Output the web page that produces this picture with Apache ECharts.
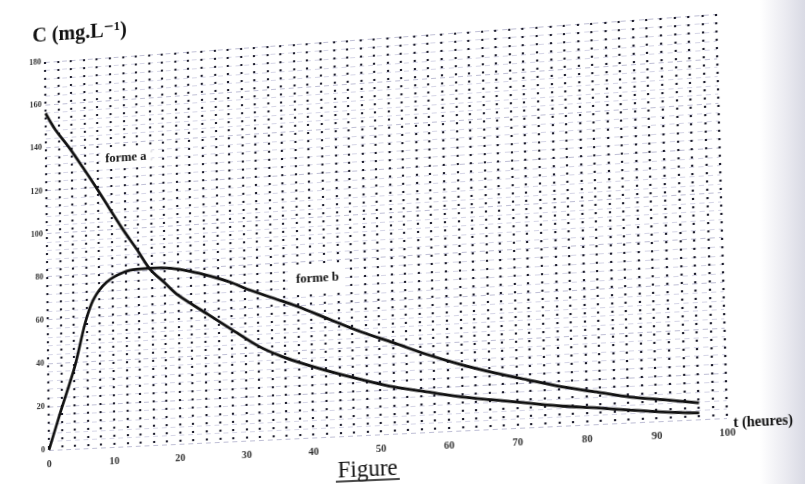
<!DOCTYPE html>
<html>
<head>
<meta charset="utf-8">
<script src="https://cdn.jsdelivr.net/npm/echarts@6/dist/echarts.min.js"></script>
<style>
  html, body { margin:0; padding:0; width:805px; height:484px; overflow:hidden;
    background: linear-gradient(to right, #ffffff 0px, #ffffff 760px, #ebebf1 785px, #d9dae4 805px); }
  #wrap { position:absolute; left:0; top:0; width:805px; height:520px; transform-origin:0 0; }
  #chart { width:805px; height:520px; }
</style>
</head>
<body>
<div id="wrap"><div id="chart"></div></div>
<script>
// ---- data ----
const tA = [0,1.5,3.5,5.6,7.6,9.5,11.7,13.8,15.8,18,20,24.5,28,32.1,35.5,38.1,42.7,47.4,52.1,57,62,66.8,71.6,76.6,81.5,86.3,91.3,96.1];
const cA = [156,148,139.7,130,120.4,110.8,99.8,90.2,80.6,74,68,58.4,51,42.5,37.4,34.3,29.4,25,21,18,15,12.9,10.8,8.7,7.2,5.5,3.9,2.8];
const tB = [0,1.8,4.1,5.8,7.1,9.1,11.7,13.8,15.8,18.9,21.9,25,28,30.6,35.5,38.1,42.7,47.4,52.1,57,62,66.8,71.6,76.6,81.5,86.3,91.3,96.1];
const cB = [0,16.9,37.8,57.9,68.3,75.8,79.9,81,81.1,80.5,78.6,75.8,72.5,68.8,62.8,59.6,53.1,46.6,41,34.9,29.5,25.1,21.2,17.3,14.3,11.3,9.3,7.2];
const seriesNames = ['forme a','forme b'];
const labelAnchors = [[12.3,133],[41,72]];   // where the curve names sit (t, C)
const xTicks = [0,10,20,30,40,50,60,70,80,90,100];
const yTicks = [0,20,40,60,80,100,120,140,160,180];
const yTitle = 'C (mg.L⁻¹)';
const xTitle = 't (heures)';
const figTitle = 'Figure';

// ---- layout ----
const G = {left:47, top:62, width:678, height:388};
const serif = '"Liberation Serif", "DejaVu Serif", serif';

const chart = echarts.init(document.getElementById('chart'), null, {renderer:'canvas'});
const pairs = (t, c) => t.map((v, i) => [v, c[i]]);
const lineSeries = (name, t, c, anchor) => ({
  name, type:'line', data: pairs(t, c), showSymbol:false, smooth:0.3,
  lineStyle:{color:'#111', width:2.8}, z:5,
  markPoint:{ symbol:'circle', symbolSize:1, silent:true, itemStyle:{color:'rgba(0,0,0,0)'},
    label:{show:true, position:'inside', formatter:name, color:'#111', fontFamily:serif,
      fontWeight:'bold', fontSize:13, backgroundColor:'#ffffff', padding:[3,5]},
    data:[{coord:anchor}] }
});

chart.setOption({
  animation:false,
  grid:{left:G.left, top:G.top, width:G.width, height:G.height, containLabel:false, outerBoundsMode:'none'},
  xAxis:{ type:'value', min:xTicks[0], max:xTicks[xTicks.length-1], interval:10,
    axisLine:{show:false}, axisTick:{show:false},
    axisLabel:{margin:9, fontSize:10.5, color:'#333', fontFamily:serif, fontWeight:'bold'},
    splitLine:{show:true, lineStyle:{color:'#1e1e2e', width:2.2, type:[2,6]}},
    minorTick:{show:false, splitNumber:5},
    minorSplitLine:{show:true, lineStyle:{color:'#1e1e2e', width:2.2, type:[2,6]}}
  },
  yAxis:{ type:'value', min:yTicks[0], max:yTicks[yTicks.length-1], interval:20,
    axisLine:{show:false}, axisTick:{show:false},
    axisLabel:{margin:4, fontSize:8.5, color:'#333', fontFamily:serif, fontWeight:'bold'},
    splitLine:{show:true, lineStyle:{color:'#b0b0cc', width:0.8, type:[5,4]}},
    minorTick:{show:false, splitNumber:5},
    minorSplitLine:{show:true, lineStyle:{color:'#c4c4dc', width:0.7, type:[5,4]}}
  },
  series:[
    lineSeries(seriesNames[0], tA, cA, labelAnchors[0]),
    lineSeries(seriesNames[1], tB, cB, labelAnchors[1])
  ],
  graphic:[
    {type:'text', left:34, top:25, style:{text:yTitle, font:'bold 21px ' + serif, fill:'#111'}},
    {type:'text', left:731, top:448, style:{text:xTitle, font:'bold 14px ' + serif, fill:'#111'}},
    {type:'text', x:372, y:484, style:{text:figTitle, font:'23px ' + serif, fill:'#111',
      textAlign:'center', textVerticalAlign:'middle'}},
    {type:'line', shape:{x1:340, y1:494, x2:404, y2:494}, style:{stroke:'#111', lineWidth:1.6}}
  ]
});

// ---- photo perspective: map the grid rectangle onto the quadrilateral seen in the scan ----
const quad = [[45,62],[716,14],[727,418],[49,450]]; // TL, TR, BR, BL
function squareToQuad(q){
  const [x0,y0]=q[0],[x1,y1]=q[1],[x2,y2]=q[2],[x3,y3]=q[3];
  const sx=x0-x1+x2-x3, sy=y0-y1+y2-y3;
  const dx1=x1-x2, dx2=x3-x2, dy1=y1-y2, dy2=y3-y2;
  const den=dx1*dy2-dx2*dy1;
  const g=(sx*dy2-dx2*sy)/den, h=(dx1*sy-sx*dy1)/den;
  return {a:x1-x0+g*x1, b:x3-x0+h*x3, c:x0, d:y1-y0+g*y1, e:y3-y0+h*y3, f:y0, g, h};
}
const H = squareToQuad(quad);
const L=G.left, T=G.top, W=G.width, Hh=G.height;
const m11=H.a/W, m12=H.b/Hh, m13=H.c - H.a*L/W - H.b*T/Hh;
const m21=H.d/W, m22=H.e/Hh, m23=H.f - H.d*L/W - H.e*T/Hh;
const m31=H.g/W, m32=H.h/Hh, m33=1 - H.g*L/W - H.h*T/Hh;
document.getElementById('wrap').style.transform =
  `matrix3d(${m11},${m21},0,${m31},${m12},${m22},0,${m32},0,0,1,0,${m13},${m23},0,${m33})`;
</script>
</body>
</html>
